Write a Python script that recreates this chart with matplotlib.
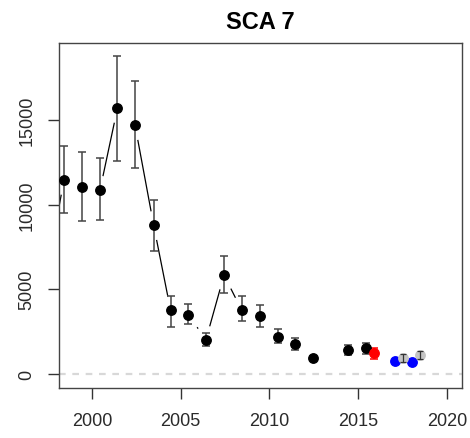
import numpy as np
import matplotlib
matplotlib.use("Agg")
import matplotlib.pyplot as plt

plt.rcParams['font.family'] = ['Liberation Sans', 'DejaVu Sans']

# main survey series (black), 2013 missing
years = [1997.42, 1998.42, 1999.44, 2000.45, 2001.43, 2002.42, 2003.47, 2004.43,
         2005.43, 2006.42, 2007.44, 2008.43, 2009.46, 2010.46, 2011.45, 2012.43,
         2013.43, 2014.42, 2015.42]
vals = [5800, 11450, 11020, 10860, 15680, 14720, 8810, 3750,
        3500, 2020, 5840, 3780, 3440, 2200, 1770, 960,
        np.nan, 1420, 1510]
hi = [7000, 13480, 13120, 12750, 18750, 17300, 10290, 4620,
      4150, 2400, 6960, 4590, 4070, 2640, 2110, 1060,
      np.nan, 1730, 1810]
lo = [4600, 9500, 9030, 9090, 12590, 12140, 7280, 2750,
      2950, 1670, 4780, 3110, 2790, 1810, 1430, 870,
      np.nan, 1120, 1160]

# red point
red_year = [2015.9]
red_val = [1220]
red_hi = [1510]
red_lo = [890]

# blue points
blue_years = [2017.09, 2018.06]
blue_vals = [750, 730]

# grey points
grey_years = [2017.54, 2018.51]
grey_vals = [920, 1140]
grey_hi = [1160, 1380]
grey_lo = [700, 900]


def yerr(v, l, h):
    v = np.array(v, float)
    return [v - np.array(l, float), np.array(h, float) - v]


fig = plt.figure(figsize=(4.7, 4.39), dpi=100)
ax = fig.add_axes([59 / 470, 50 / 439, 403 / 470, 345 / 439])

ebc = '#444444'

# connecting line with gaps around points (white halos)
ax.plot(years, vals, color='black', lw=0.9, zorder=1)
ax.plot(years, vals, 'o', color='white', ms=20, zorder=2)

ax.axhline(0, color='#d8d8d8', lw=1.6, ls=(0, (3, 3)), zorder=2.5)

ax.errorbar(years, vals, yerr=yerr(vals, lo, hi), fmt='none', ecolor=ebc,
            elinewidth=1.1, capsize=3, capthick=1.1, zorder=3)
ax.plot(years, vals, 'o', color='black', ms=6.8, zorder=4)

ax.errorbar(red_year, red_val, yerr=yerr(red_val, red_lo, red_hi), fmt='none',
            ecolor='red', elinewidth=1.1, capsize=3, capthick=1.1, zorder=3)
ax.plot(red_year, red_val, 'o', color='red', ms=6.8, zorder=4)

ax.plot(blue_years, blue_vals, 'o', color='blue', ms=6.8, zorder=4)

ax.plot(grey_years, grey_vals, 'o', color='#c4c4c4', ms=6.8, zorder=4)
ax.errorbar(grey_years, grey_vals, yerr=yerr(grey_vals, grey_lo, grey_hi), fmt='none',
            ecolor='#333333', elinewidth=0.9, capsize=2, capthick=0.9, zorder=5)

ax.set_xlim(1998.14, 2020.85)
ax.set_ylim(-826, 19540)
ax.set_xticks([2000, 2005, 2010, 2015, 2020])
ax.set_yticks([0, 5000, 10000, 15000])

for s in ax.spines.values():
    s.set_color('#444444')
    s.set_linewidth(1.0)

ax.tick_params(direction='out', length=8, width=1.0, color='#333333',
               labelsize=13, labelcolor='#2a2a2a', pad=9)
for lab in ax.get_yticklabels():
    lab.set_rotation(90)
    lab.set_va('center')

ax.set_title('SCA 7', fontsize=17, fontweight='bold', pad=11)

fig.savefig('out.png', dpi=100)
